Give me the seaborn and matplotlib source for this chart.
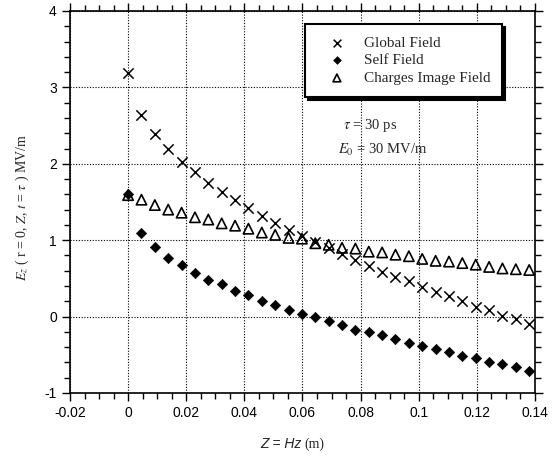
import numpy as np
import pandas as pd
import matplotlib
matplotlib.use("Agg")
import matplotlib.pyplot as plt
from matplotlib.ticker import MultipleLocator
import seaborn as sns

# axial position Z = Hz (m)
z_pos = [0.0, 0.0046, 0.0092, 0.0138, 0.0184, 0.023, 0.0276, 0.0322, 0.0368, 0.0414,
         0.046, 0.0506, 0.0552, 0.0598, 0.0644, 0.069, 0.0736, 0.0782, 0.0828, 0.0874,
         0.092, 0.0966, 0.1012, 0.1058, 0.1104, 0.115, 0.1196, 0.1242, 0.1288, 0.1334, 0.138]

global_field = [3.19, 2.64, 2.39, 2.20, 2.02, 1.89, 1.75, 1.63, 1.53, 1.42,
                1.32, 1.23, 1.13, 1.06, 0.97, 0.90, 0.82, 0.74, 0.66, 0.59,
                0.52, 0.46, 0.39, 0.32, 0.27, 0.20, 0.13, 0.08, 0.01, -0.03, -0.10]

self_field = [1.60, 1.10, 0.91, 0.77, 0.67, 0.57, 0.48, 0.42, 0.33, 0.28,
              0.21, 0.15, 0.09, 0.04, -0.01, -0.06, -0.11, -0.17, -0.20, -0.24,
              -0.30, -0.34, -0.38, -0.42, -0.47, -0.51, -0.54, -0.59, -0.62, -0.66, -0.71]

image_field = [1.59, 1.53, 1.46, 1.40, 1.36, 1.30, 1.27, 1.22, 1.19, 1.15,
               1.10, 1.07, 1.03, 1.02, 0.96, 0.94, 0.90, 0.89, 0.85, 0.84,
               0.81, 0.79, 0.755, 0.73, 0.72, 0.70, 0.68, 0.65, 0.63, 0.62, 0.61]

df = pd.DataFrame({"z": z_pos, "glob": global_field, "self": self_field, "img": image_field})

sns.set_style("ticks")
plt.rcParams["font.family"] = ["Liberation Sans", "DejaVu Sans"]
plt.rcParams["mathtext.fontset"] = "stix"

fig = plt.figure(figsize=(5.58, 4.62), dpi=100)
ax = fig.add_axes([0.1254, 0.1494, 0.8334, 0.8268])

sns.scatterplot(data=df, x="z", y="glob", marker="x", s=55, color="black",
                linewidth=1.1, ax=ax, label="Global Field", zorder=3)
sns.scatterplot(data=df, x="z", y="self", marker="D", s=28, color="black",
                edgecolor="black", ax=ax, label="Self Field", zorder=3)
sns.scatterplot(data=df, x="z", y="img", marker="^", s=55, facecolor="none",
                edgecolor="black", linewidth=1.2, ax=ax, label="Charges Image Field", zorder=4)

ax.set_xlim(-0.02, 0.14)
ax.set_ylim(-1, 4)
ax.xaxis.set_major_locator(MultipleLocator(0.02))
ax.xaxis.set_minor_locator(MultipleLocator(0.005))
ax.yaxis.set_major_locator(MultipleLocator(1))
ax.yaxis.set_minor_locator(MultipleLocator(0.2))
ax.xaxis.set_major_formatter(plt.FuncFormatter(lambda v, p: f"{v:g}"))
ax.yaxis.set_major_formatter(plt.FuncFormatter(lambda v, p: f"{v:g}"))

ax.tick_params(which="both", direction="out", top=True, right=True, color="black",
               labelsize=10, labelcolor="black")
ax.tick_params(which="major", length=6, width=1)
ax.tick_params(which="minor", length=4, width=1)
for sp in ax.spines.values():
    sp.set_color("black")
    sp.set_linewidth(1.2)

ax.grid(which="major", linestyle=(0, (1, 1.5)), color="black", linewidth=0.8)
ax.set_axisbelow(True)

ax.set_xlabel("")
ax.set_ylabel("")
fig.text(0.54, 0.03, "Z = Hz", fontsize=10, ha="right", va="baseline",
         style="italic", family=["Liberation Sans"])
fig.text(0.545, 0.03, "(m)", fontsize=10, ha="left", va="baseline",
         family=["Liberation Serif"])
fig.text(0.04, 0.55, r"$E_z$ ( r = 0, $Z$, $t$ = $\tau$ ) MV/m", fontsize=10,
         rotation=90, ha="center", va="center", family=["Liberation Serif"])

ax.text(0.587, 0.70, r"$\tau$ = 30 ps", transform=ax.transAxes, fontsize=10.5,
        family=["Liberation Serif"], ha="left", va="center")
ax.text(0.576, 0.636, r"$E_0$ = 30 MV/m", transform=ax.transAxes, fontsize=10.5,
        family=["Liberation Serif"], ha="left", va="center")

leg = ax.legend(loc="upper left", bbox_to_anchor=(0.505, 0.966), frameon=True,
                fancybox=False, shadow={"color": "black", "alpha": 1},
                prop={"family": "Liberation Serif", "size": 11}, markerscale=0.75,
                labelspacing=0.25, handletextpad=0.45, borderpad=0.8,
                borderaxespad=0, handlelength=2.6)
leg.get_frame().set_edgecolor("black")
leg.get_frame().set_linewidth(1.5)
leg.get_frame().set_facecolor("white")
leg.get_frame().set_alpha(1)

fig.savefig("out.png", dpi=100, facecolor="white")
